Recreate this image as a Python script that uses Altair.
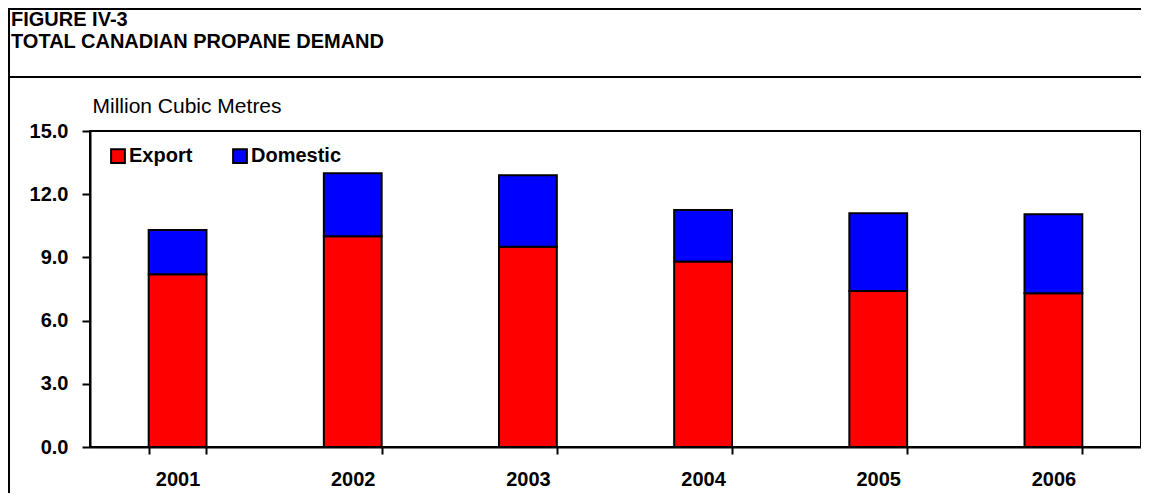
import altair as alt
import pandas as pd

years = ["2001", "2002", "2003", "2004", "2005", "2006"]
export = [8.2, 10.0, 9.5, 8.8, 7.4, 7.3]
domestic = [2.1, 3.0, 3.4, 2.45, 3.7, 3.75]
series = ["Export", "Domestic"]
colors = ["#FF0000", "#0000FF"]
y_ticks = [0, 3, 6, 9, 12, 15]

rows = []
for i, yr in enumerate(years):
    rows.append({"year": yr, "series": "Export", "value": export[i], "idx": 0})
    rows.append({"year": yr, "series": "Domestic", "value": domestic[i], "idx": 1})
df = pd.DataFrame(rows)

FONT = "Liberation Sans"
W, H = 1051, 316
FS = 20

bars = alt.Chart(df).mark_bar(stroke="black", strokeWidth=2).encode(
    x=alt.X("year:N", sort=years,
            scale=alt.Scale(paddingInner=0.67, paddingOuter=0.335),
            axis=alt.Axis(title=None, labelAngle=0, tickBand="extent",
                          labelFont=FONT, labelFontSize=FS, labelFontWeight="bold",
                          labelColor="black", labelPadding=15, tickSize=7,
                          tickColor="black", tickWidth=2, domainColor="black",
                          domainWidth=2)),
    y=alt.Y("value:Q", stack="zero",
            scale=alt.Scale(domain=[0, 15], nice=False),
            axis=alt.Axis(title="Million Cubic Metres", values=y_ticks, format=".1f",
                          grid=False, labelFont=FONT, labelFontSize=FS,
                          labelFontWeight="bold", labelColor="black", labelPadding=14,
                          tickSize=8, tickColor="black", tickWidth=2,
                          domainColor="black", domainWidth=2,
                          titleAngle=0, titleX=2, titleY=-19, titleAlign="left",
                          titleBaseline="alphabetic", titleFont=FONT,
                          titleFontSize=21, titleFontWeight="normal",
                          titleColor="black")),
    color=alt.Color("series:N", scale=alt.Scale(domain=series, range=colors),
                    legend=alt.Legend(title=None, orient="none", legendX=18,
                                      legendY=15, direction="horizontal",
                                      symbolType="square", symbolSize=190,
                                      symbolStrokeColor="black",
                                      symbolStrokeWidth=2, symbolOpacity=1,
                                      labelFont=FONT, labelFontSize=FS,
                                      labelFontWeight="bold", labelColor="black",
                                      columnPadding=36, labelOffset=1)),
    order=alt.Order("idx:Q"),
)

one = alt.Data(values=[{"a": 1}])

title1 = alt.Chart(one).mark_text(align="left", baseline="alphabetic", font=FONT,
                                  fontSize=FS, fontWeight="bold", color="black").encode(
    x=alt.value(-79), y=alt.value(-105), text=alt.value("FIGURE IV-3"))
title2 = alt.Chart(one).mark_text(align="left", baseline="alphabetic", font=FONT,
                                  fontSize=FS, fontWeight="bold", color="black").encode(
    x=alt.value(-79), y=alt.value(-83), text=alt.value("TOTAL CANADIAN PROPANE DEMAND"))

sep = alt.Chart(one).mark_rule(color="black", strokeWidth=2).encode(
    x=alt.value(-82), x2=alt.value(W), y=alt.value(-54))
top_line = alt.Chart(one).mark_rule(color="black", strokeWidth=2).encode(
    x=alt.value(-82), x2=alt.value(W + 10), y=alt.value(-122))
left_line = alt.Chart(one).mark_rule(color="black", strokeWidth=2).encode(
    x=alt.value(-81), y=alt.value(-123), y2=alt.value(H + 50))

chart = alt.layer(bars, title1, title2, sep, top_line, left_line).properties(
    width=W, height=H,
    autosize=alt.AutoSizeParams(type="none"),
    padding={"left": 82, "top": 123, "right": 0, "bottom": 46},
    background="white",
).configure_view(stroke="black", strokeWidth=2)

chart.save("out.html", embed_options={"renderer": "svg", "actions": False})
